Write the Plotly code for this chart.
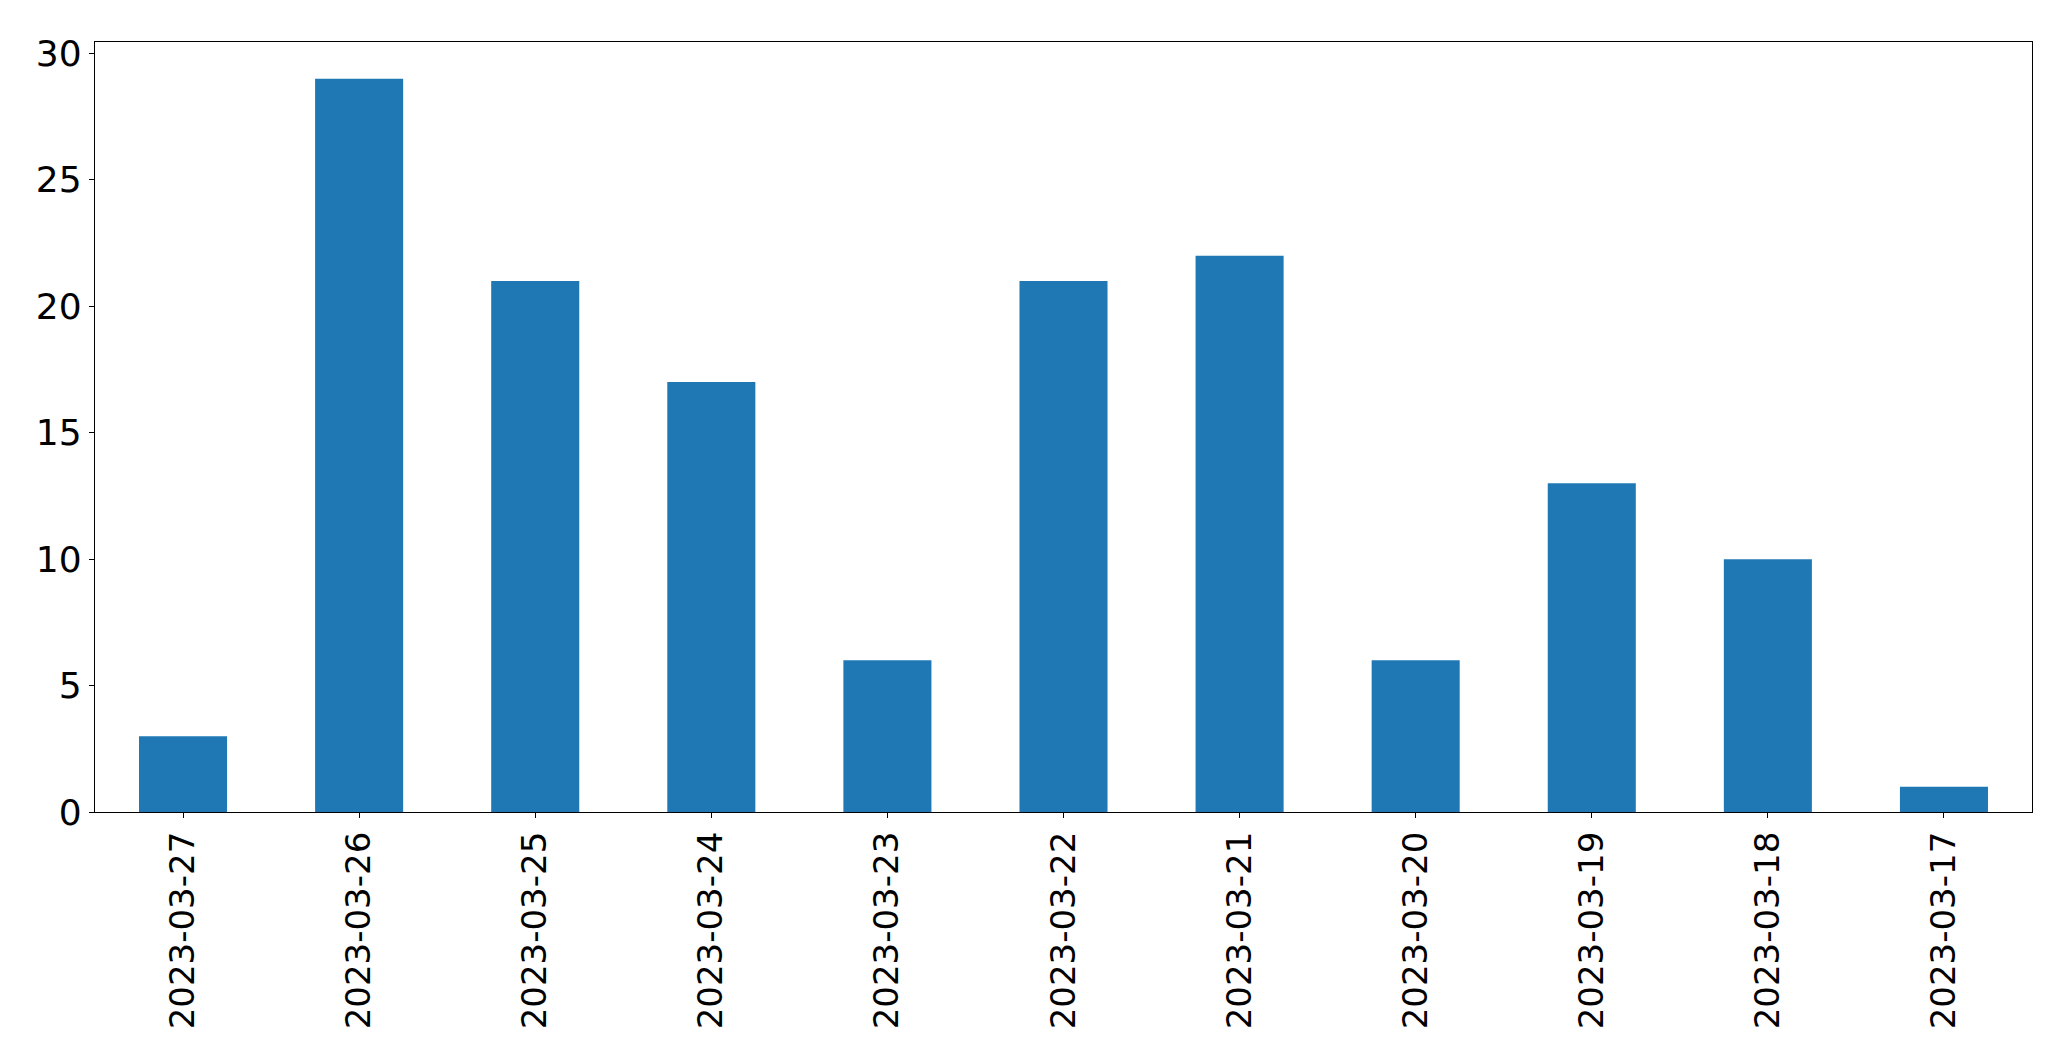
import plotly.graph_objects as go

dates = ["2023-03-27", "2023-03-26", "2023-03-25", "2023-03-24", "2023-03-23",
         "2023-03-22", "2023-03-21", "2023-03-20", "2023-03-19", "2023-03-18", "2023-03-17"]
counts = [3, 29, 21, 17, 6, 21, 22, 6, 13, 10, 1]
y_ticks = [0, 5, 10, 15, 20, 25, 30]

fig = go.Figure(go.Bar(x=dates, y=counts, marker=dict(color="#1f77b4", line=dict(width=0))))

fig.update_layout(
    width=2055, height=1048,
    margin=dict(l=87, r=31, t=34, b=244),
    plot_bgcolor="white", paper_bgcolor="white",
    bargap=0.5,
    showlegend=False,
    font=dict(family="DejaVu Sans", size=34, color="black"),
)
fig.update_xaxes(
    type="category", range=[-0.5, 10.5],
    tickangle=-90, ticks="outside", ticklen=5, tickwidth=1.3, tickcolor="black",
    showline=True, linecolor="black", linewidth=1.3, mirror=True,
    showgrid=False, zeroline=False,
    tickfont=dict(family="DejaVu Sans", size=34, color="black"),
)
fig.update_yaxes(
    range=[0, 30.45], tickvals=y_ticks,
    ticks="outside", ticklen=5, tickwidth=1.3, tickcolor="black",
    showline=True, linecolor="black", linewidth=1.3, mirror=True,
    showgrid=False, zeroline=False,
    tickfont=dict(family="DejaVu Sans", size=36, color="black"),
)

fig.write_html("out.html")
